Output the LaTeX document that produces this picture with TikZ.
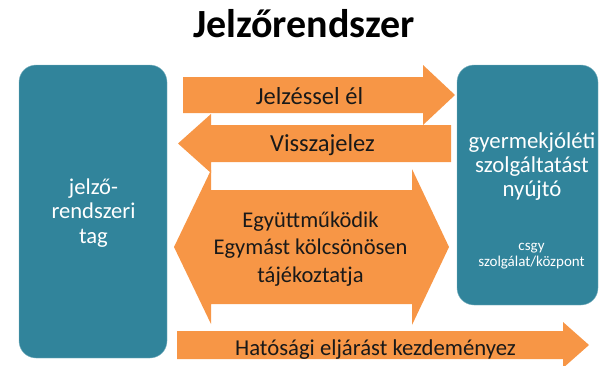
\documentclass[tikz,border=0pt]{standalone}
\usepackage{fontspec}
\setmainfont{Carlito}
\usetikzlibrary{positioning}
\definecolor{narancs}{HTML}{F79646}
\definecolor{kekes}{HTML}{31849B}

\begin{document}
\begin{tikzpicture}[x=1pt, y=-1pt,
	tagbox/.style={fill=kekes, draw=kekes!60!white, rounded corners=17pt, text=white, align=center},
	nyil/.style={fill=narancs},
	nyiltext/.style={text=black!90, align=center, font=\fontsize{24.5}{27}\selectfont}]
	\clip (0,0) rectangle (599,365);

	\node[anchor=base, font=\bfseries\fontsize{40}{44}\selectfont] (cim) at (304,37) {Jelzőrendszer};

	% a ket szereplo
	\node[tagbox, minimum width=148pt, minimum height=293pt] (tag) at (93,211.5) {};
	\node[text=white, align=center, font=\fontsize{22.6}{24.5}\selectfont] (tagnev) at (93.5,213) {jelző-\\rendszeri\\tag};
	\node[tagbox, minimum width=141pt, minimum height=240pt] (szolg) at (527.5,185) {};
	\node[text=white, align=center, font=\fontsize{22.8}{24}\selectfont] (szolgnev) at (532,167) {gyermekjóléti\\szolgáltatást\\nyújtó};
	\node[text=white, align=center, font=\fontsize{15}{15.5}\selectfont] (csgy) at (531.5,256) {csgy\\szolgálat/központ};

	% nyilak
	\fill[nyil] (183,77) -- (423,77) -- (423,65) -- (455,95) -- (423,125) -- (423,113) -- (183,113) -- cycle;
	\node[nyiltext, anchor=base] (jelzes) at (309.5,104) {Jelzéssel él};

	\fill[nyil] (451,125) -- (211,125) -- (211,114) -- (178,143.5) -- (211,173) -- (211,162) -- (451,162) -- cycle;
	\node[nyiltext, anchor=base] (vissza) at (322.5,151) {Visszajelez};

	\fill[nyil] (211,190) -- (412,190) -- (412,169) -- (449,247) -- (412,325) -- (412,304)
		-- (211,304) -- (211,324) -- (174,247) -- (211,170) -- cycle;
	\node[nyiltext, font=\fontsize{22.5}{27.5}\selectfont] (egyutt) at (310.5,249) {Együttműködik\\Egymást kölcsönösen\\tájékoztatja};

	\fill[nyil] (177,331) -- (563,331) -- (563,322) -- (589,345) -- (563,368) -- (563,359) -- (177,359) -- cycle;
	\node[nyiltext, anchor=base, font=\fontsize{22.7}{27}\selectfont] (hatosagi) at (375.5,355) {Hatósági eljárást kezdeményez};
\end{tikzpicture}
\end{document}
